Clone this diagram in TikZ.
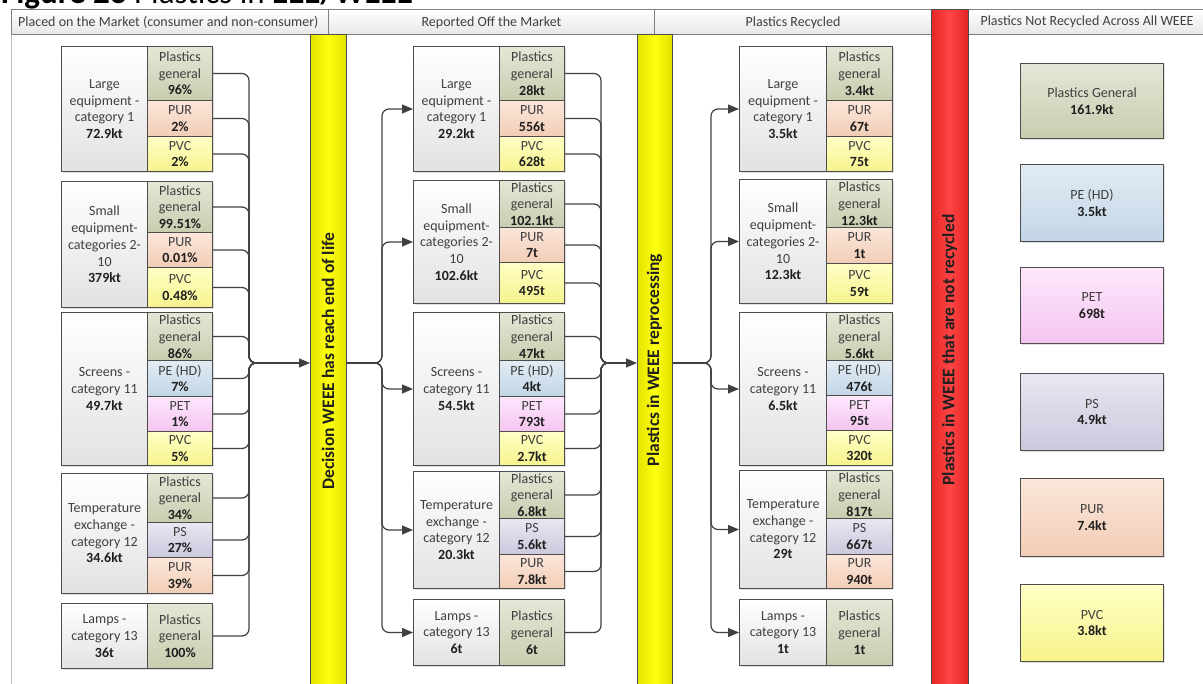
\documentclass[tikz,border=0pt]{standalone}
\usepackage{fontspec}
\setmainfont{Carlito}
\usetikzlibrary{arrows.meta,shadows}
\definecolor{bord}{HTML}{4D4D4D}
\definecolor{lineC}{HTML}{404040}
\definecolor{txt}{HTML}{404040}
\definecolor{valC}{HTML}{1F1F1F}
\definecolor{labB}{HTML}{E2E2E2}
\definecolor{pgT}{HTML}{E3E7D6}\definecolor{pgB}{HTML}{C7CEAF}
\definecolor{purT}{HTML}{FBE6DA}\definecolor{purB}{HTML}{F2CDB6}
\definecolor{pvcT}{HTML}{FFFFC6}\definecolor{pvcB}{HTML}{F6F38C}
\definecolor{peT}{HTML}{E1EBF4}\definecolor{peB}{HTML}{C3D6E6}
\definecolor{petT}{HTML}{FEE8FD}\definecolor{petB}{HTML}{F4C4EF}
\definecolor{psT}{HTML}{E8E7F1}\definecolor{psB}{HTML}{CBC8DD}
\definecolor{hdrB}{HTML}{E6E6E6}
\definecolor{hdrD}{HTML}{7F7F7F}
\definecolor{frameC}{HTML}{BFBFBF}
\definecolor{yelE}{HTML}{E2E200}\definecolor{yelM}{HTML}{FFFF10}
\definecolor{redE}{HTML}{E52525}\definecolor{redM}{HTML}{FF4545}
\newcommand\valtxt[1]{\textcolor{valC}{\textbf{#1}}}
\newcommand\bx[7]{\node[#1, minimum width={#4pt-#2pt}, minimum height={#5pt-#3pt}] (#6) at (#2,#3) {#7};}
\tikzset{
  base/.style={font=\fontsize{14}{16.7}\selectfont, text=txt},
  cell/.style={base, draw=bord, line width=1pt, anchor=north west, inner sep=0pt, align=center,
    drop shadow={shadow xshift=1.5pt, shadow yshift=-1.5pt, opacity=0.25}},
  lab/.style={cell, top color=white, bottom color=labB},
  pg/.style={cell, top color=pgT, bottom color=pgB},
  pur/.style={cell, top color=purT, bottom color=purB},
  pvc/.style={cell, top color=pvcT, bottom color=pvcB},
  pe/.style={cell, top color=peT, bottom color=peB},
  pet/.style={cell, top color=petT, bottom color=petB},
  ps/.style={cell, top color=psT, bottom color=psB},
  hdr/.style={base, draw=hdrD, line width=1pt, anchor=north west, inner sep=0pt, top color=white, bottom color=hdrB},
  vtext/.style={font=\fontsize{17.5}{20}\selectfont\bfseries, text=black!88, rotate=90, inner sep=0pt},
  conn/.style={draw=lineC, line width=1.2pt, rounded corners=7pt},
  tip/.style={-{Triangle[length=11pt,width=9pt]}},
}
\begin{document}
\begin{tikzpicture}[x=1pt,y=-1pt]
\useasboundingbox (0,0) rectangle (1203,684);
% title (cropped at top)
\node[anchor=base west, inner sep=0pt, font=\fontsize{33}{34}\selectfont, text=black] (title) at (1,3.5) {\textbf{Figure 23} Plastics in \textbf{EEE/WEEE}};
% frame line
\draw[draw=frameC, line width=1pt] (11,34.5) -- (11,690);
% headers
\bx{hdr}{11}{9.5}{328}{34.5}{h1}{}
\node[base, anchor=west, inner sep=0pt] (h1t) at (18,22) {Placed on the Market (consumer and non-consumer)};
\bx{hdr}{328}{9.5}{654}{34.5}{h2}{Reported Off the Market}
\bx{hdr}{654}{9.5}{931}{34.5}{h3}{Plastics Recycled}
\bx{hdr}{968}{9.5}{1215}{34.5}{h4}{}
\node[base, inner sep=0pt] (h4t) at (1087,22) {Plastics Not Recycled Across All WEEE};
% bars
\path[draw=bord, line width=1pt, left color=yelE, right color=yelE, middle color=yelM] (310,35) rectangle (346,690);
\node[vtext] (t1) at (328,361) {Decision WEEE has reach end of life};
\path[draw=bord, line width=1pt, left color=yelE, right color=yelE, middle color=yelM] (637,35) rectangle (672,690);
\node[vtext] (t2) at (654.5,360) {Plastics in WEEE reprocessing};
\path[draw=bord, line width=1pt, left color=redE, right color=redE, middle color=redM] (931,9.5) rectangle (968,690);
\node[vtext] (t3) at (949.5,350) {Plastics in WEEE that are not recycled};

% ---------- column 1 ----------
\bx{lab}{61}{46}{147}{171}{c1a}{Large\\equipment -\\category 1\\\valtxt{72.9kt}}
\bx{pg}{147}{46}{212}{100}{c1a1}{Plastics\\general\\\valtxt{96\%}}
\bx{pur}{147}{100}{212}{136}{c1a2}{PUR\\\valtxt{2\%}}
\bx{pvc}{147}{136}{212}{171}{c1a3}{PVC\\\valtxt{2\%}}
\bx{lab}{61}{181}{147}{307}{c1b}{Small\\equipment-\\categories 2-\\10\\\valtxt{379kt}}
\bx{pg}{147}{181}{212}{232}{c1b1}{Plastics\\general\\\valtxt{99.51\%}}
\bx{pur}{147}{232}{212}{267}{c1b2}{PUR\\\valtxt{0.01\%}}
\bx{pvc}{147}{267}{212}{307}{c1b3}{PVC\\\valtxt{0.48\%}}
\bx{lab}{61}{312}{147}{465}{c1c}{Screens -\\category 11\\\valtxt{49.7kt}}
\bx{pg}{147}{312}{212}{360}{c1c1}{Plastics\\general\\\valtxt{86\%}}
\bx{pe}{147}{360}{212}{396}{c1c2}{PE (HD)\\\valtxt{7\%}}
\bx{pet}{147}{396}{212}{431}{c1c3}{PET\\\valtxt{1\%}}
\bx{pvc}{147}{431}{212}{465}{c1c4}{PVC\\\valtxt{5\%}}
\bx{lab}{61}{473}{147}{593}{c1d}{Temperature\\exchange -\\category 12\\\valtxt{34.6kt}}
\bx{pg}{147}{473}{212}{522}{c1d1}{Plastics\\general\\\valtxt{34\%}}
\bx{ps}{147}{522}{212}{557}{c1d2}{PS\\\valtxt{27\%}}
\bx{pur}{147}{557}{212}{593}{c1d3}{PUR\\\valtxt{39\%}}
\bx{lab}{61}{603}{147}{668}{c1e}{Lamps -\\category 13\\\valtxt{36t}}
\bx{pg}{147}{603}{212}{668}{c1e1}{Plastics\\general\\\valtxt{100\%}}

% ---------- column 2 ----------
\bx{lab}{413}{46}{499}{171}{c2a}{Large\\equipment -\\category 1\\\valtxt{29.2kt}}
\bx{pg}{499}{46}{564}{100}{c2a1}{Plastics\\general\\\valtxt{28kt}}
\bx{pur}{499}{100}{564}{136}{c2a2}{PUR\\\valtxt{556t}}
\bx{pvc}{499}{136}{564}{171}{c2a3}{PVC\\\valtxt{628t}}
\bx{lab}{413}{180}{499}{303}{c2b}{Small\\equipment-\\categories 2-\\10\\\valtxt{102.6kt}}
\bx{pg}{499}{180}{564}{227}{c2b1}{Plastics\\general\\\valtxt{102.1kt}}
\bx{pur}{499}{227}{564}{262}{c2b2}{PUR\\\valtxt{7t}}
\bx{pvc}{499}{262}{564}{303}{c2b3}{PVC\\\valtxt{495t}}
\bx{lab}{413}{312}{499}{465}{c2c}{Screens -\\category 11\\\valtxt{54.5kt}}
\bx{pg}{499}{312}{564}{360}{c2c1}{Plastics\\general\\\valtxt{47kt}}
\bx{pe}{499}{360}{564}{396}{c2c2}{PE (HD)\\\valtxt{4kt}}
\bx{pet}{499}{396}{564}{431}{c2c3}{PET\\\valtxt{793t}}
\bx{pvc}{499}{431}{564}{465}{c2c4}{PVC\\\valtxt{2.7kt}}
\bx{lab}{413}{471}{499}{588}{c2d}{Temperature\\exchange -\\category 12\\\valtxt{20.3kt}}
\bx{pg}{499}{471}{564}{518}{c2d1}{Plastics\\general\\\valtxt{6.8kt}}
\bx{ps}{499}{518}{564}{554}{c2d2}{PS\\\valtxt{5.6kt}}
\bx{pur}{499}{554}{564}{588}{c2d3}{PUR\\\valtxt{7.8kt}}
\bx{lab}{413}{599}{499}{665}{c2e}{Lamps -\\category 13\\\valtxt{6t}}
\bx{pg}{499}{599}{564}{665}{c2e1}{Plastics\\general\\\valtxt{6t}}

% ---------- column 3 ----------
\bx{lab}{739}{46}{826}{171}{c3a}{Large\\equipment -\\category 1\\\valtxt{3.5kt}}
\bx{pg}{826}{46}{892}{100}{c3a1}{Plastics\\general\\\valtxt{3.4kt}}
\bx{pur}{826}{100}{892}{136}{c3a2}{PUR\\\valtxt{67t}}
\bx{pvc}{826}{136}{892}{171}{c3a3}{PVC\\\valtxt{75t}}
\bx{lab}{739}{179}{826}{303}{c3b}{Small\\equipment-\\categories 2-\\10\\\valtxt{12.3kt}}
\bx{pg}{826}{179}{892}{227}{c3b1}{Plastics\\general\\\valtxt{12.3kt}}
\bx{pur}{826}{227}{892}{263}{c3b2}{PUR\\\valtxt{1t}}
\bx{pvc}{826}{263}{892}{303}{c3b3}{PVC\\\valtxt{59t}}
\bx{lab}{739}{312}{826}{465}{c3c}{Screens -\\category 11\\\valtxt{6.5kt}}
\bx{pg}{826}{312}{892}{360}{c3c1}{Plastics\\general\\\valtxt{5.6kt}}
\bx{pe}{826}{360}{892}{395}{c3c2}{PE (HD)\\\valtxt{476t}}
\bx{pet}{826}{395}{892}{430}{c3c3}{PET\\\valtxt{95t}}
\bx{pvc}{826}{430}{892}{465}{c3c4}{PVC\\\valtxt{320t}}
\bx{lab}{739}{470}{826}{588}{c3d}{Temperature\\exchange -\\category 12\\\valtxt{29t}}
\bx{pg}{826}{470}{892}{518}{c3d1}{Plastics\\general\\\valtxt{817t}}
\bx{ps}{826}{518}{892}{554}{c3d2}{PS\\\valtxt{667t}}
\bx{pur}{826}{554}{892}{588}{c3d3}{PUR\\\valtxt{940t}}
\bx{lab}{739}{599}{826}{665}{c3e}{Lamps -\\category 13\\\valtxt{1t}}
\bx{pg}{826}{599}{892}{665}{c3e1}{Plastics\\general\\\valtxt{1t}}

% ---------- column 4 ----------
\bx{pg}{1020}{63}{1163}{138}{c4a}{Plastics General\\\valtxt{161.9kt}}
\bx{pe}{1020}{164}{1163}{241}{c4b}{PE (HD)\\\valtxt{3.5kt}}
\bx{pet}{1020}{267}{1163}{343}{c4c}{PET\\\valtxt{698t}}
\bx{ps}{1020}{373}{1163}{450}{c4d}{PS\\\valtxt{4.9kt}}
\bx{pur}{1020}{478}{1163}{556}{c4e}{PUR\\\valtxt{7.4kt}}
\bx{pvc}{1020}{584}{1163}{661}{c4f}{PVC\\\valtxt{3.8kt}}

% ---------- connectors ----------
\coordinate (b1) at (249,363);
\coordinate (m1) at (262,363);
\coordinate (y1w) at (310,363);
\coordinate (y1e) at (346,363);
\coordinate (b2) at (601,363);
\coordinate (m2) at (614,363);
\coordinate (y2w) at (637,363);
\coordinate (y2e) at (672,363);
\foreach \s in {c1a1,c1a2,c1a3,c1b1,c1b2,c1b3,c1c1,c1c2,c1c3,c1c4,c1d1,c1d2,c1d3,c1e1}
  \draw[conn] (\s.east) -| (b1) -- (m1);
\draw[conn,tip] (m1) -- (y1w);
\foreach \t in {c2a,c2b,c2c,c2d,c2e}
  \draw[conn,tip] (y1e) -| ([xshift=-31pt]\t.west) -- (\t.west);
\foreach \s in {c2a1,c2a2,c2a3,c2b1,c2b2,c2b3,c2c1,c2c2,c2c3,c2c4,c2d1,c2d2,c2d3,c2e1}
  \draw[conn] (\s.east) -| (b2) -- (m2);
\draw[conn,tip] (m2) -- (y2w);
\foreach \t in {c3a,c3b,c3c,c3d,c3e}
  \draw[conn,tip] (y2e) -| ([xshift=-28pt]\t.west) -- (\t.west);
\end{tikzpicture}
\end{document}
